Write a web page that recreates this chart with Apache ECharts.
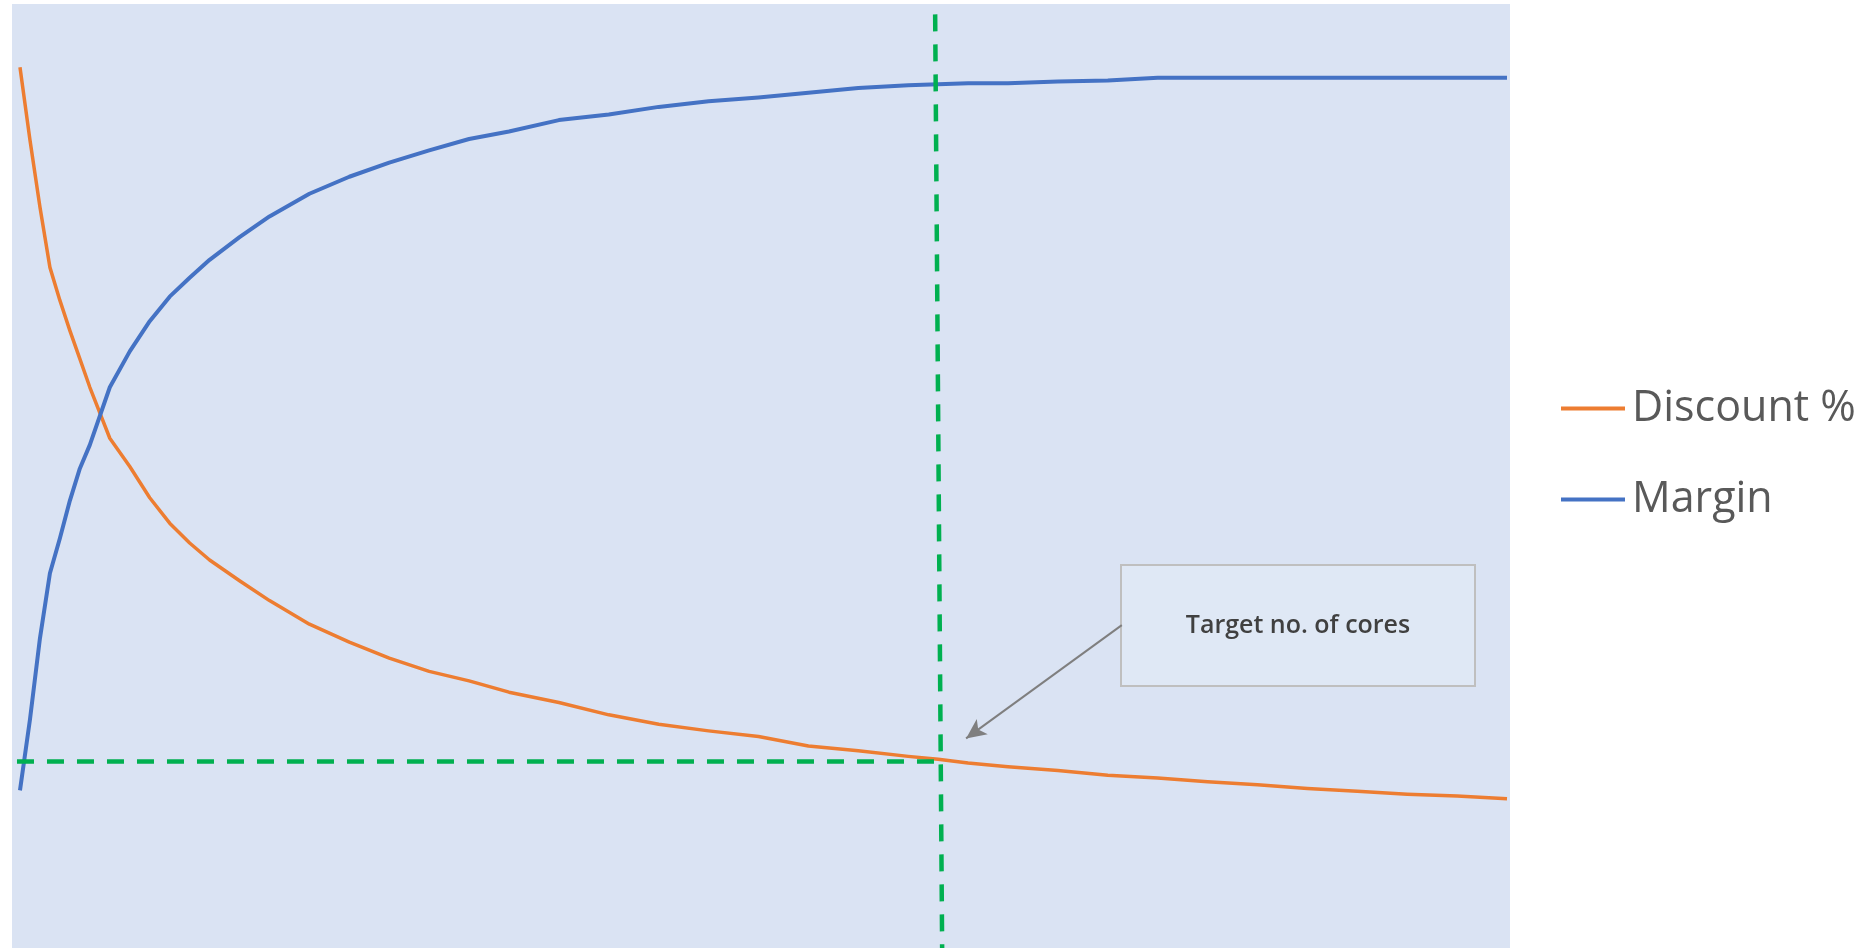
<!DOCTYPE html>
<html>
<head>
<meta charset="utf-8">
<title>Discount vs Margin</title>
<script src="https://cdn.jsdelivr.net/npm/echarts@6/dist/echarts.min.js"></script>
<style>
  html, body { margin: 0; padding: 0; background: #ffffff; }
  #chart { width: 1872px; height: 948px; }
</style>
</head>
<body>
<div id="chart"></div>
<script>
// no. of cores (x)
const cores = [1, 2, 3, 4, 5, 6, 7, 8, 10, 12, 14, 16, 18, 20, 23, 26, 30, 34, 38, 42, 46, 50,
  55, 60, 65, 70, 75, 80, 85, 90, 93, 96, 100, 105, 110, 115, 120, 125, 130, 135, 140, 145, 150];
// Discount %
const discount = [93.3, 85.6, 78.5, 72.1, 68.6, 65.4, 62.4, 59.4, 54.0, 51.0, 47.7, 45.0, 42.9, 41.1,
  38.9, 36.8, 34.3, 32.4, 30.7, 29.3, 28.3, 27.1, 26.0, 24.7, 23.7, 23.0, 22.4, 21.4, 20.9, 20.3,
  20.0, 19.6, 19.2, 18.8, 18.3, 18.0, 17.6, 17.3, 16.9, 16.6, 16.3, 16.1, 15.8];
// Margin
const margin = [16.7, 24.2, 32.8, 39.7, 43.4, 47.4, 50.8, 53.3, 59.4, 63.2, 66.4, 69.0, 71.0, 72.9,
  75.3, 77.5, 79.9, 81.7, 83.2, 84.5, 85.7, 86.5, 87.7, 88.3, 89.1, 89.7, 90.1, 90.6, 91.1, 91.4,
  91.5, 91.6, 91.6, 91.8, 91.9, 92.2, 92.2, 92.2, 92.2, 92.2, 92.2, 92.2, 92.2];

// target point
const targetCores = 93;
const targetDiscount = 19.8;
const annotationText = 'Target no. of cores';

const pair = (xs, ys) => xs.map((x, i) => [x, ys[i]]);

let myChart = echarts.init(document.getElementById('chart'));

const green = { color: '#00b050', width: 4.5, type: [17, 13] };

let option = {
  animation: false,
  backgroundColor: '#ffffff',
  grid: {
    left: 12, top: 4, width: 1498, bottom: 0,
    show: true, backgroundColor: '#dae3f3', borderWidth: 0
  },
  xAxis: {
    type: 'value', min: 0.2, max: 150.3,
    axisLine: { show: false }, axisTick: { show: false },
    axisLabel: { show: false }, splitLine: { show: false }
  },
  yAxis: {
    type: 'value', min: 0, max: 100,
    axisLine: { show: false }, axisTick: { show: false },
    axisLabel: { show: false }, splitLine: { show: false }
  },
  legend: {
    orient: 'vertical',
    left: 1556, top: 382,
    data: ['Discount %', 'Margin'],
    icon: 'rect',
    itemWidth: 64, itemHeight: 4,
    itemGap: 48,
    textStyle: {
      fontFamily: 'Open Sans', fontSize: 43, lineHeight: 42,
      color: '#595959', padding: [0, 0, 0, 2]
    }
  },
  series: [
    {
      name: 'Discount %', type: 'line',
      data: pair(cores, discount),
      showSymbol: false,
      lineStyle: { color: '#ed7d31', width: 3.5, join: 'round' },
      itemStyle: { color: '#ed7d31' },
      z: 3,
      markLine: {
        silent: true,
        symbol: 'none',
        label: { show: false },
        data: [
          [{ coord: [0.7, targetDiscount], lineStyle: green },
           { coord: [targetCores + 0.2, targetDiscount] }],
          [{ coord: [targetCores - 0.3, 98.9], lineStyle: green },
           { coord: [targetCores + 0.4, 0] }],
          [{ coord: [111.4, 34.2], symbol: 'none',
             lineStyle: { color: '#7f7f7f', width: 2, type: 'solid' } },
           { coord: [95.8, 22.2], symbol: 'arrow', symbolSize: [14, 20] }]
        ]
      }
    },
    {
      name: 'Margin', type: 'line',
      data: pair(cores, margin),
      showSymbol: false,
      lineStyle: { color: '#4472c4', width: 4, join: 'round' },
      itemStyle: { color: '#4472c4' },
      z: 3
    }
  ],
  graphic: [
    {
      type: 'group', left: 1120, top: 564,
      children: [
        {
          type: 'rect',
          shape: { x: 0, y: 0, width: 354, height: 121 },
          style: { fill: '#dfe8f5', stroke: '#bfbfbf', lineWidth: 2 }
        },
        {
          type: 'text',
          x: 177, y: 61,
          style: {
            text: annotationText,
            fontFamily: 'Open Sans', fontSize: 25, fontWeight: 600,
            fill: '#404040', align: 'center', verticalAlign: 'middle'
          }
        }
      ]
    }
  ]
};

option && myChart.setOption(option);
</script>
</body>
</html>
